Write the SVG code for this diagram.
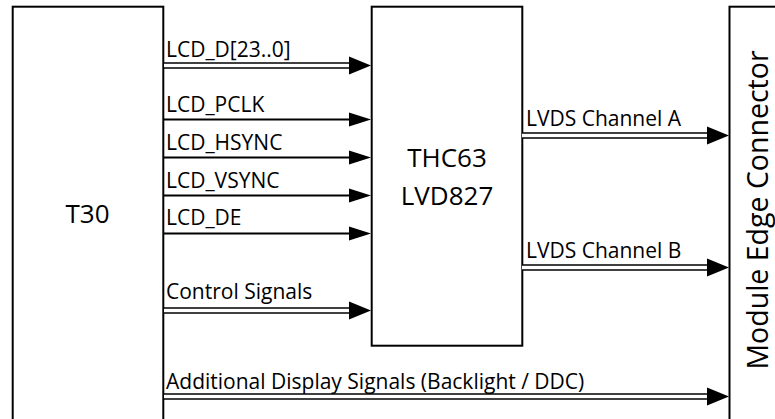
<svg xmlns="http://www.w3.org/2000/svg" width="775" height="419" viewBox="0 0 775 419">
<style>
.box{fill:#fff;stroke:#000;stroke-width:2}
.sig{stroke:#000;stroke-width:2;fill:none}
.bus{stroke:#000;stroke-width:6.5;fill:none}
.busin{stroke:#fff;stroke-width:3.5;fill:none}
.head{fill:#000;stroke:none}
.lbl{font-family:"Open Sans","Liberation Sans",sans-serif;font-size:21px;fill:#000}
.big{font-family:"Open Sans","Liberation Sans",sans-serif;font-size:26px;fill:#000;text-anchor:middle}
</style>
<rect width="775" height="419" fill="#fff"/>
<g id="t30">
<rect class="box" x="12.7" y="6.7" width="150.6" height="430"/>
<text class="big" x="87.5" y="223">T30</text>
</g>
<g id="thc63">
<rect class="box" x="371.7" y="6.7" width="150.6" height="339"/>
<text class="big" x="447" y="167">THC63</text>
<text class="big" x="447" y="205">LVD827</text>
</g>
<g id="connector">
<rect class="box" x="729.5" y="6.7" width="70" height="430"/>
<text class="big" style="font-size:28.5px" transform="translate(768,210) rotate(-90)" x="0" y="0">Module Edge Connector</text>
</g>
<g id="connectors">
<g id="lcd_d">
<line class="bus" x1="164" y1="65.5" x2="352" y2="65.5"/>
<line class="busin" x1="164" y1="65.5" x2="352" y2="65.5"/>
<polygon class="head" points="349,56.5 371,65.5 349,74.5"/>
<text class="lbl" x="166" y="57">LCD_D[23..0]</text>
</g>
<g id="lcd_pclk">
<line class="sig" x1="164" y1="119.5" x2="352" y2="119.5"/>
<polygon class="head" points="349,112.5 371,119.5 349,126.5"/>
<text class="lbl" x="166" y="112">LCD_PCLK</text>
</g>
<g id="lcd_hsync">
<line class="sig" x1="164" y1="157.5" x2="352" y2="157.5"/>
<polygon class="head" points="349,150.5 371,157.5 349,164.5"/>
<text class="lbl" x="166" y="150">LCD_HSYNC</text>
</g>
<g id="lcd_vsync">
<line class="sig" x1="164" y1="195.5" x2="352" y2="195.5"/>
<polygon class="head" points="349,188.5 371,195.5 349,202.5"/>
<text class="lbl" x="166" y="188">LCD_VSYNC</text>
</g>
<g id="lcd_de">
<line class="sig" x1="164" y1="233.5" x2="352" y2="233.5"/>
<polygon class="head" points="349,226.5 371,233.5 349,240.5"/>
<text class="lbl" x="166" y="225">LCD_DE</text>
</g>
<g id="control">
<line class="bus" x1="164" y1="310.5" x2="352" y2="310.5"/>
<line class="busin" x1="164" y1="310.5" x2="352" y2="310.5"/>
<polygon class="head" points="349,301.5 371,310.5 349,319.5"/>
<text class="lbl" x="166" y="299">Control Signals</text>
</g>
<g id="lvds_a">
<line class="bus" x1="522" y1="135.5" x2="710" y2="135.5"/>
<line class="busin" x1="522" y1="135.5" x2="710" y2="135.5"/>
<polygon class="head" points="707,126.5 729,135.5 707,144.5"/>
<text class="lbl" x="526" y="126">LVDS Channel A</text>
</g>
<g id="lvds_b">
<line class="bus" x1="522" y1="267.5" x2="710" y2="267.5"/>
<line class="busin" x1="522" y1="267.5" x2="710" y2="267.5"/>
<polygon class="head" points="707,258.5 729,267.5 707,276.5"/>
<text class="lbl" x="526" y="258">LVDS Channel B</text>
</g>
<g id="additional">
<line class="bus" x1="164" y1="396.5" x2="710" y2="396.5"/>
<line class="busin" x1="164" y1="396.5" x2="710" y2="396.5"/>
<polygon class="head" points="707,387.5 729,396.5 707,405.5"/>
<text class="lbl" x="166" y="389">Additional Display Signals (Backlight / DDC)</text>
</g>
</g>
</svg>
